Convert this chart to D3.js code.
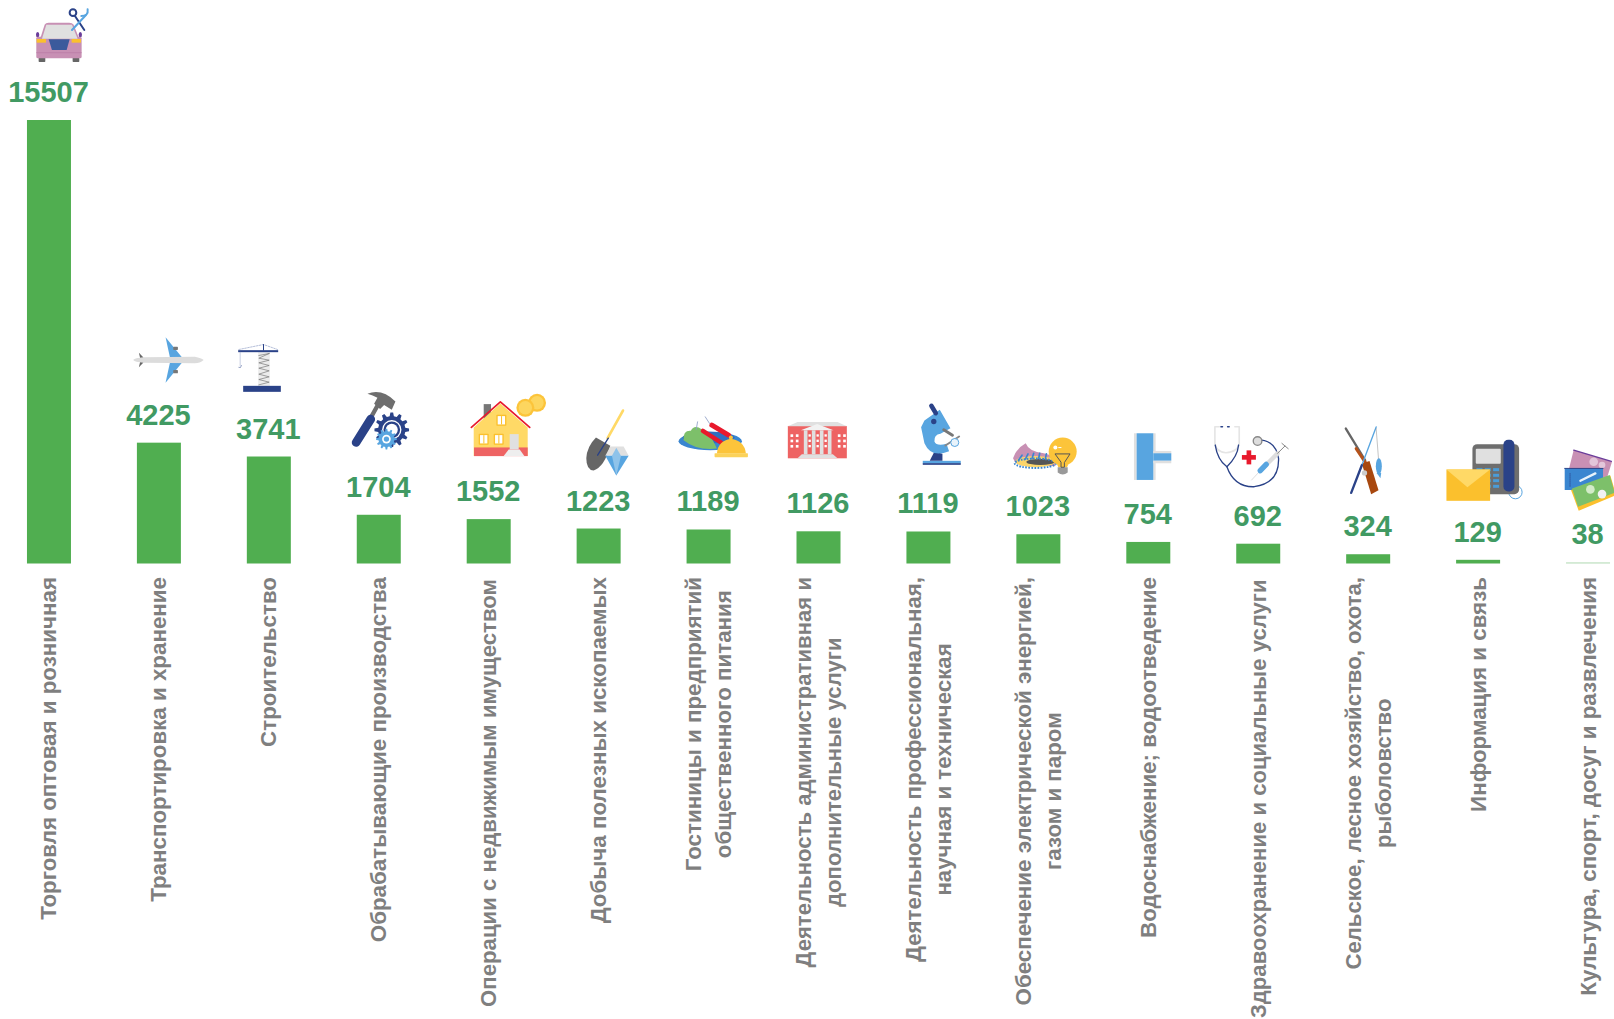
<!DOCTYPE html>
<html><head><meta charset="utf-8">
<script src="https://cdn.jsdelivr.net/npm/d3@7/dist/d3.min.js"></script>
<style>html,body{margin:0;padding:0;background:#fff;overflow:hidden}svg{display:block}</style>
</head><body><div id="c"></div>
<script>
const categories=[
["Торговля оптовая и розничная"],
["Транспортировка и хранение"],
["Строительство"],
["Обрабатывающие производства"],
["Операции с недвижимым имуществом"],
["Добыча полезных ископаемых"],
["Гостиницы и предприятий","общественного питания"],
["Деятельность административная и","дополнительные услуги"],
["Деятельность профессиональная,","научная и техническая"],
["Обеспечение электрической энергией,","газом и паром"],
["Водоснабжение; водоотведение"],
["Здравоохранение и социальные услуги"],
["Сельское, лесное хозяйство, охота,","рыболовство"],
["Информация и связь"],
["Культура, спорт, досуг и развлечения"]];
const values=[15507,4225,3741,1704,1552,1223,1189,1126,1119,1023,754,692,324,129,38];
const labelSizes=[22.35,22.35,22.35,22.35,22.2,22.35,22.35,22.15,22.25,22.3,22.35,22.1,22.15,22.35,22.35];
const labelStarts=[577,577,577,577,579,577,577,577,577,577,577,579.5,577,577,577];
const W=1614,H=1019,baseY=563.5;
const NAVY="#2a4288",SKY="#58a5e0",GREY="#6e6e6e",LG="#e0e0e0",GOLD="#fcc43a",SAND="#ffd966",RED="#e8192c",CORAL="#ee6363",PINK="#c890b4",LEAF="#7dc06a";
const svg=d3.select("#c").append("svg").attr("width",W).attr("height",H);
const x=d3.scaleBand().domain(d3.range(values.length)).range([-6,1643]).paddingInner(0.6).paddingOuter(0.3);
const y=d3.scaleLinear().domain([0,15507]).range([baseY,120]);
const cx=i=>x(i)+x.bandwidth()/2;
svg.selectAll("rect.bar").data(values).join("rect").attr("class","bar")
 .attr("x",(d,i)=>cx(i)-22).attr("width",44).attr("y",d=>y(d)).attr("height",d=>baseY-y(d))
 .attr("fill",d=>d<50?"#b5dcb7":"#50ae50");
svg.selectAll("text.val").data(values).join("text").attr("class","val")
 .attr("x",(d,i)=>cx(i)-0.5).attr("y",d=>y(d)-18).attr("text-anchor","middle")
 .attr("font-family","Liberation Sans").attr("font-weight","bold").attr("font-size",29).attr("fill","#419a63").text(d=>d);
categories.forEach((lines,i)=>{
 const n=lines.length;
 const nodes=lines.map((t,j)=>svg.append("text").attr("font-family","Liberation Sans").attr("font-weight","bold")
   .attr("font-size",labelSizes[i]).attr("fill","#7f7f7f").text(t));
 const longest=d3.max(nodes,s=>s.node().getComputedTextLength());
 nodes.forEach((s,j)=>{
  const px=cx(i)+7.5+(j-(n-1)/2)*29.8;
  if(n>1) s.attr("text-anchor","middle").attr("transform",`translate(${px},${labelStarts[i]+longest/2}) rotate(-90)`);
  else s.attr("text-anchor","end").attr("transform",`translate(${px},${labelStarts[i]}) rotate(-90)`);
 });
});
// pictograms: artwork in 3x local units, anchored to each bar's centre and top
function icon(i,ax,ay,draw){
 const g=svg.append("g").attr("transform",`translate(${cx(i)},${y(values[i])}) scale(${1/3}) translate(${-ax},${-ay})`);
 const P=(d,f,s,w)=>g.append("path").attr("d",d).attr("fill",f||"none").attr("stroke",s||"none").attr("stroke-width",w||0).attr("stroke-linecap","round").attr("stroke-linejoin","round");
 const L=(a,b,c,e,s,w)=>P(`M${a},${b}L${c},${e}`,null,s,w);
 const R=(a,b,c,e,f,r)=>g.append("rect").attr("x",a).attr("y",b).attr("width",c).attr("height",e).attr("fill",f).attr("rx",r||0);
 const C=(a,b,r,f,s,w)=>g.append("circle").attr("cx",a).attr("cy",b).attr("r",r).attr("fill",f||"none").attr("stroke",s||"none").attr("stroke-width",w||0);
 const E=(a,b,rx,ry,f,s,w)=>g.append("ellipse").attr("cx",a).attr("cy",b).attr("rx",rx).attr("ry",ry).attr("fill",f||"none").attr("stroke",s||"none").attr("stroke-width",w||0);
 const gear=(a,b,ro,ri,n,f)=>{let d="";for(let k=0;k<n;k++){const t=k*2*Math.PI/n,h=Math.PI/n/2;
   [[ri,t-h*1.2],[ro,t-h*.6],[ro,t+h*.6],[ri,t+h*1.2]].forEach(([r,u],q)=>{d+=(k==0&&q==0?"M":"L")+(a+r*Math.cos(u))+","+(b+r*Math.sin(u));});}
   return P(d+"Z",f);};
 draw({P,L,R,C,E,gear});
}
icon(0,147,360,({P,L,R,C,E})=>{
 R(116,170,20,16,"#666",2);R(218,170,20,16,"#666",2);
 E(113,104,5,8,"#6a3d9a");E(241,104,5,8,"#6a3d9a");
 P("M122,112L134,74Q137,68 146,68L208,68Q217,68 221,74L236,112Z",PINK);
 R(109,110,136,65,PINK,5);
 P("M126,116L139,74H216L233,116Z",LG);
 R(110,117,28,11,"#fbc02d");R(215,117,28,11,"#fbc02d");
 P("M146,118H209L200,150H156Z","#3b5a9c");
 L(110,158,244,158,"#b878a4",2);
 C(219,38,10,null,NAVY,6);L(225,48,253,90,NAVY,6);
 L(258,45,216,90,SKY,6);P("M244,48Q266,48 263,28",null,SKY,6);
});
icon(1,117,338,({P,R})=>{
 P("M137,22L186,82L150,82Z",SKY);P("M150,98L186,98L137,158Z",SKY);
 R(160,50,14,10,"#777",2);R(160,120,14,10,"#777",2);
 P("M57,68L70,82L70,98L57,112L62,90Z","#666");
 P("M40,90Q45,84 70,82L225,80Q245,84 251,90Q240,100 225,100L70,98Q45,96 40,90Z","#dcdcdc");
});
icon(2,446,379,({P,L,R})=>{
 R(414,66,35,101,"#ececec");
 P("M416,76L447,70M447,70L416,84L447,90L416,98L447,106L416,114L447,122L416,132L447,140L416,148L447,156L416,164","none","#666",1.8);
 P("M356,58L430,43L472,58","none","#8c9cc4",2).attr("stroke-dasharray","5 4");
 L(430,43,430,60,NAVY,3);
 R(354,60,120,6,NAVY);R(369,167,113,18,NAVY);
 L(360,66,360,106,"#8c9cc4",1.5);P("M364,106Q362,116 356,112","none",NAVY,1.5);
});
icon(3,776,555,({P,L,C,gear})=>{
 P("M742,192Q785,175 826,215L815,240L792,226L780,238L762,222L772,204Q758,196 742,192Z",GREY);
 L(772,228,752,264,GREY,13);
 L(752,268,708,338,NAVY,26);
 gear(815,300,52,41,12,NAVY);C(815,300,29,"#fff");C(815,300,25,NAVY);C(815,300,18,"#fff");
 gear(799,328,31,24,12,SKY);C(799,328,13,"#fff");C(799,328,8,SKY);
});
icon(4,1105,567,({P,R,C})=>{
 C(1250,218,27,GOLD);C(1250,218,20,"#fdd65f");C(1215,233,27,GOLD);C(1215,233,20,"#fdd65f");
 R(1090,222,22,45,"#777");
 P("M1060,292L1140,220L1222,292V378H1060Z",SAND);
 R(1061,352,161,26,CORAL);
 P("M1053,292L1140,215L1228,292","none",RED,5);
 [[1075,311],[1120,311],[1128,254]].forEach(([a,b])=>{R(a,b,30,33,"#fbc02d",2);R(a+4,b+4,22,25,"#fff");R(a+14,b+4,3,25,"#fbc02d");});
 R(1168,312,27,46,LG);
 P("M1150,378L1165,358H1198L1212,378Z","#eee");
});
icon(5,115,446,({P,L})=>{
 L(188,92,142,175,SAND,8);
 P("M107,173L150,198Q132,262 100,272Q78,270 78,235Q80,200 107,173Z","#666");
 L(144,175,112,226,NAVY,4);
 P("M150,200H190L205,228H135Z",LG);
 P("M135,228H205L168,287Z",SKY);
 P("M155,228L168,204L182,228L168,287Z","#8fc3ea");
});
icon(6,445,448,({P,L,R,C,E})=>{
 E(450,183,95,27,"#3a86d0");E(445,172,78,18,"#2f6fc0");
 P("M370,180Q368,150 392,152Q402,132 425,148Q445,150 470,205Q410,212 370,180Z",LEAF);
 L(428,152,484,188,RED,13);L(455,135,505,165,RED,15);
 L(408,148,412,125,"#8c9cc4",2.5);L(448,130,435,110,"#8c9cc4",2.5);
 P("M470,220Q473,182 512,176Q553,182 557,220Z",GOLD);C(512,172,6,GOLD);
 R(463,219,100,12,"#fbd25a",2);
});
icon(7,775,453,({P,R})=>{
 R(683,137,177,97,CORAL);
 P("M683,138L712,125H832L860,138Z",LG);
 P("M722,150L771,131L820,150Z","#f2f2f2");
 [731,755,779,803].forEach(a=>R(a,150,11,72,LG));
 [693,709,835,851].forEach(a=>[162,178,194].forEach(b=>R(a-2,b,8,8,"#fff")));
 [745,769,793].forEach(a=>[162,178,194].forEach(b=>R(a,b,7,7,"#fff")));
 P("M712,234L725,222H818L832,234Z",LG);
});
icon(8,1104,455,({P,L,R,C})=>{
 R(1087,243,114,8,SKY);R(1087,250,114,5,NAVY);
 P("M1108,243L1122,215L1146,222V243Z",NAVY);
 P("M1082,142L1092,122L1138,90L1170,145L1140,162Q1120,165 1122,185Q1128,200 1158,192L1166,214Q1112,236 1092,190Z",SKY);
 L(1113,78,1126,100,NAVY,14);C(1120,125,8,NAVY);
 L(1150,150,1176,166,"#777",9);L(1155,197,1196,170,"#888",6);
 C(1183,188,12,"#e8f3fb",SKY,3);
});
icon(9,1434,463,({P,L,R,C,E})=>{
 P("M1358,235Q1368,205 1396,190Q1405,215 1450,220L1485,230V258H1400Q1365,258 1358,235Z",PINK);
 E(1425,245,60,17,"#fcd56a");E(1440,246,42,9,"#555");
 E(1425,250,62,14,null,"#3a86d0",6).attr("stroke-dasharray","5 4");
 P("M1375,240L1385,226M1395,238L1403,222M1415,236L1420,220M1435,235L1438,220M1455,236L1458,222",null,"#3a86d0",5);
 C(1507,215,42,GOLD);P("M1490,253H1524L1520,262H1494Z",GOLD);
 P("M1492,262H1522V278Q1507,290 1492,278Z","#999");
 P("M1485,222H1529L1512,248V262H1502V248Z","none","#555",3);
 C(1485,203,6,"#fff");L(1495,203,1502,203,"#fff",3);
});
icon(10,173,426,({R})=>{
 R(130,100,8,140,LG);R(188,100,7,60,LG);R(188,182,7,58,LG);
 R(138,100,50,140,SKY);
 R(188,153,54,8,LG);R(188,182,54,8,LG);
 R(188,160,54,22,SKY);
});
icon(11,502,431,({P,L,R,C})=>{
 P("M385,80H372V130Q375,155 405,158Q442,155 445,130V80H432",null,"#e5e5e5",5);
 L(390,80,395,80,NAVY,4);L(410,80,415,80,NAVY,4);
 P("M373,135Q380,180 408,200Q440,170 443,135",null,NAVY,4);
 P("M408,200Q430,262 490,260Q565,250 563,175Q555,125 512,120",null,NAVY,4);
 C(500,123,13,"#ddd","#888",4);
 R(453,165,42,14,RED);R(467,151,14,42,RED);
 L(482,240,508,212,"#ccc",2);
 L(508,212,560,160,"#ddd",13);L(508,212,526,193,SKY,16);
 L(560,160,582,138,"#888",3);L(573,130,592,146,"#888",3);
});
icon(12,831,462,({P,L,E})=>{
 L(764,85,822,180,"#666",7);
 L(795,145,825,190,"#b5521b",9);
 P("M812,190L835,182L862,270L840,282Z","#a8480f");
 L(855,80,812,195,SKY,4);L(812,195,780,278,NAVY,7);
 L(855,85,862,175,"#888",1.5);
 E(863,198,9,24,SKY);P("M856,218L870,218L868,234L862,226Z",SKY);
 E(820,218,8,8,"#ccc");
});
icon(13,1160,480,({P,R,C})=>{
 C(1272,277,20,null,SKY,3);
 R(1143,133,140,150,GREY,14);
 R(1153,147,75,45,LG,3);
 [1155,1180,1205].forEach(a=>[205,222,238,255].forEach(b=>R(a,b,18,9,"#4a9cd8")));
 R(1236,120,33,155,NAVY,14);
 R(1065,209,131,94,"#fbc02d");
 P("M1065,209L1128,262L1196,209Z",SAND);
});
icon(14,1488,487,({P,L,C})=>{
 P("M1445,150L1560,185L1535,265L1425,230Z",PINK);
 L(1445,150,1558,184,"#6a3d9a",4);
 C(1505,185,13,"#e3c6da");C(1530,195,10,"#e3c6da");
 P("M1418,205H1533V270H1418Z","#3a86d0");
 L(1418,205,1533,205,NAVY,3);L(1434,220,1434,262,NAVY,2).attr("stroke-dasharray","3 3");
 L(1465,242,1510,220,"#e8f3fb",7);
 P("M1437,270L1555,226L1572,285L1460,332Z","#fbc02d");
 P("M1440,265L1553,225L1568,278L1458,320Z",LEAF);
 C(1495,268,13,"#d3ebc9");C(1530,282,13,"#f2f2f2");
});
</script></body></html>
